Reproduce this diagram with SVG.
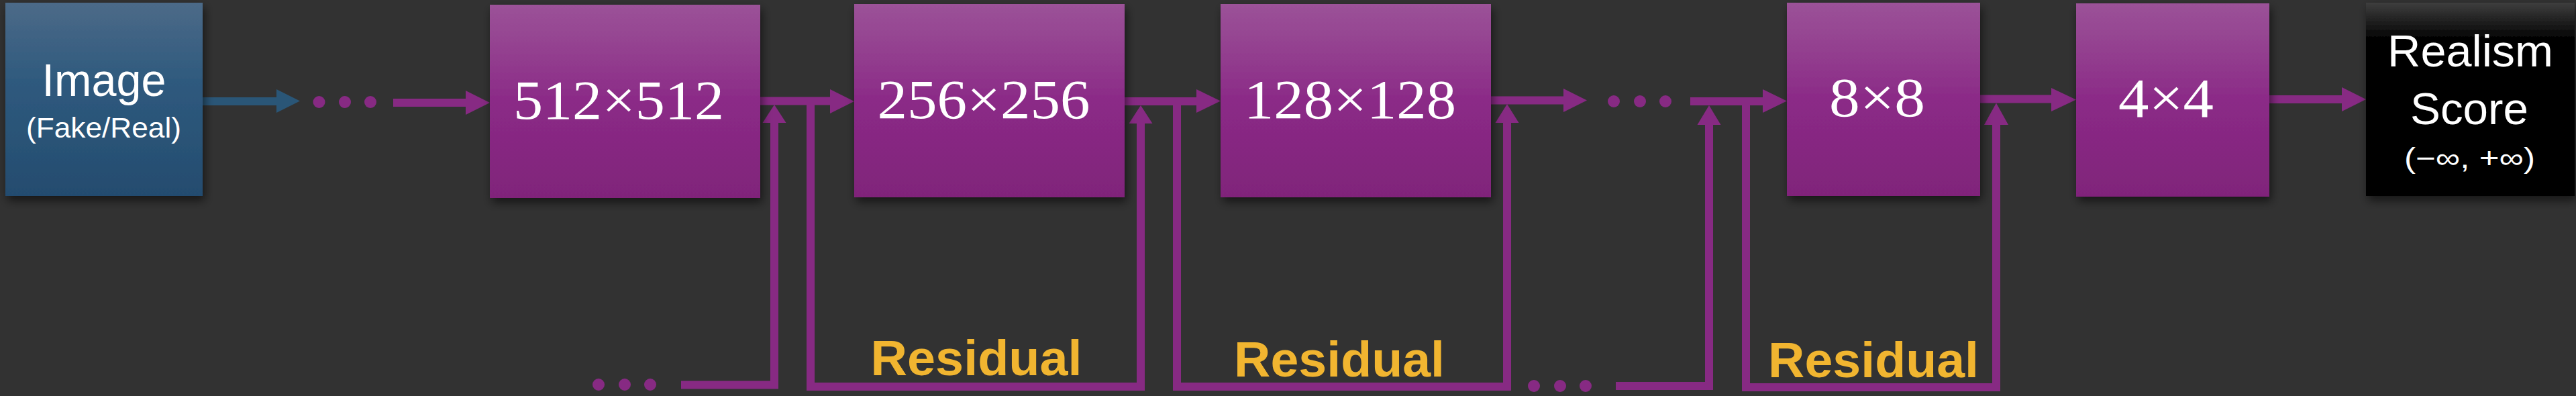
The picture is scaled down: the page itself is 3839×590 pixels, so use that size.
<svg xmlns="http://www.w3.org/2000/svg" width="3839" height="590" viewBox="0 0 3839 590">
<defs>
<linearGradient id="gPurple" x1="0" y1="0" x2="0" y2="1">
<stop offset="0" stop-color="#9B5298"/>
<stop offset="0.25" stop-color="#933F8F"/>
<stop offset="0.5" stop-color="#8B2A87"/>
<stop offset="1" stop-color="#80247A"/>
</linearGradient>
<linearGradient id="gBlue" x1="0" y1="0" x2="0" y2="1">
<stop offset="0" stop-color="#4C6A88"/>
<stop offset="0.4" stop-color="#2F5A7E"/>
<stop offset="1" stop-color="#244C6F"/>
</linearGradient>
<linearGradient id="gBlack" x1="0" y1="0" x2="0" y2="1">
<stop offset="0" stop-color="#3E3E3E"/>
<stop offset="0.18" stop-color="#050505"/>
<stop offset="1" stop-color="#000000"/>
</linearGradient>
<filter id="shadow" x="-10%" y="-10%" width="125%" height="125%">
<feDropShadow dx="3" dy="7" stdDeviation="7" flood-color="#000" flood-opacity="0.55"/>
</filter>
<style>
.box{filter:url(#shadow);}
.pbox{fill:url(#gPurple);}
.dim{font-family:"Liberation Serif","DejaVu Serif",serif;font-size:82px;fill:#FFFFFF;text-anchor:middle;}
.sans{font-family:"Liberation Sans","Noto Sans",sans-serif;fill:#FFFFFF;text-anchor:middle;}
.res{font-family:"Liberation Sans","Noto Sans",sans-serif;font-weight:bold;font-size:74px;fill:#F1B530;text-anchor:middle;}
.pl{fill:none;stroke:#872A83;stroke-width:12;stroke-linejoin:miter;stroke-linecap:butt;}
.ph{fill:#872A83;}
.dot{fill:#872A83;}
</style>
</defs>
<rect x="0" y="0" width="3839" height="590" fill="#323232"/>

<g id="connectors">
<!-- blue arrow -->
<rect x="302" y="145" width="112" height="12" fill="#2A5677"/>
<polygon points="412,133 447,150.5 412,168" fill="#2A5677"/>
<circle class="dot" cx="475.5" cy="152" r="9"/>
<circle class="dot" cx="514" cy="152" r="9"/>
<circle class="dot" cx="552" cy="152" r="9"/>
<!-- into 512 -->
<path class="pl" d="M586,153 H696"/>
<polygon class="ph" points="694,135 730,153 694,171"/>
<!-- 512 -> 256 -->
<path class="pl" d="M1133,150.5 H1239"/>
<polygon class="ph" points="1237,133 1273,151 1237,169"/>
<!-- 256 -> 128 -->
<path class="pl" d="M1676,151 H1785"/>
<polygon class="ph" points="1783,133 1819,150.5 1783,168"/>
<!-- 128 -> dots -->
<path class="pl" d="M2222,149.5 H2332"/>
<polygon class="ph" points="2330,132 2365,149.5 2330,167"/>
<circle class="dot" cx="2405" cy="151" r="9"/>
<circle class="dot" cx="2444" cy="151" r="9"/>
<circle class="dot" cx="2482" cy="151" r="9"/>
<!-- dots -> 8x8 -->
<path class="pl" d="M2519,151 H2629"/>
<polygon class="ph" points="2627,133 2663,150.5 2627,168"/>
<!-- 8x8 -> 4x4 -->
<path class="pl" d="M2951,147.5 H3059"/>
<polygon class="ph" points="3057,131 3094,148.5 3057,166"/>
<!-- 4x4 -> Realism -->
<path class="pl" d="M3382,148 H3492"/>
<polygon class="ph" points="3490,130 3526,148 3490,166"/>

<!-- residual: incoming from left dots into junction after 512 -->
<circle class="dot" cx="892" cy="573" r="9"/>
<circle class="dot" cx="931" cy="573" r="9"/>
<circle class="dot" cx="969" cy="573" r="9"/>
<path class="pl" d="M1015,573.5 H1154 V181"/>
<polygon class="ph" points="1136.5,183 1154,156 1171.5,183"/>
<!-- residual loop 1 -->
<path class="pl" d="M1208,150 V576 H1700 V181"/>
<polygon class="ph" points="1682.5,184 1700,157 1717.5,184"/>
<!-- residual loop 2 -->
<path class="pl" d="M1754,150 V576 H2246 V180"/>
<polygon class="ph" points="2228.5,183 2246,155 2263.5,183"/>
<!-- residual from dots into junction before 8x8 -->
<circle class="dot" cx="2286" cy="575" r="9"/>
<circle class="dot" cx="2325" cy="575" r="9"/>
<circle class="dot" cx="2363" cy="575" r="9"/>
<path class="pl" d="M2408,575 H2547 V183"/>
<polygon class="ph" points="2529.5,186 2547,157 2564.5,186"/>
<!-- residual loop 3 -->
<path class="pl" d="M2602,150 V577 H2975 V183"/>
<polygon class="ph" points="2957,186 2975,153.5 2993,186"/>
</g>

<g id="node-image">
<rect class="box" x="8" y="4" width="294" height="288" fill="url(#gBlue)"/>
<text class="sans" x="155" y="143" font-size="68" textLength="185" lengthAdjust="spacingAndGlyphs">Image</text>
<text class="sans" x="154.5" y="205" font-size="43" textLength="231" lengthAdjust="spacingAndGlyphs">(Fake/Real)</text>
</g>

<g id="node-512">
<rect class="box pbox" x="730" y="7" width="403" height="288"/>
<text class="dim" x="922" y="177" textLength="314" lengthAdjust="spacingAndGlyphs">512×512</text>
</g>

<g id="node-256">
<rect class="box pbox" x="1273" y="6" width="403" height="288"/>
<text class="dim" x="1466" y="176" textLength="317" lengthAdjust="spacingAndGlyphs">256×256</text>
</g>

<g id="node-128">
<rect class="box pbox" x="1819" y="6" width="403" height="288"/>
<text class="dim" x="2012" y="176" textLength="316" lengthAdjust="spacingAndGlyphs">128×128</text>
</g>

<g id="node-8">
<rect class="box pbox" x="2663" y="4" width="288" height="288"/>
<text class="dim" x="2797.5" y="173" textLength="143" lengthAdjust="spacingAndGlyphs">8×8</text>
</g>

<g id="node-4">
<rect class="box pbox" x="3094" y="5" width="288" height="288"/>
<text class="dim" x="3228" y="174" textLength="142" lengthAdjust="spacingAndGlyphs">4×4</text>
</g>

<g id="node-score">
<rect class="box" x="3526" y="4" width="311" height="288" fill="url(#gBlack)"/>
<text class="sans" x="3681.5" y="99" font-size="66" textLength="247" lengthAdjust="spacingAndGlyphs">Realism</text>
<text class="sans" x="3680" y="185" font-size="66" textLength="176" lengthAdjust="spacingAndGlyphs">Score</text>
<text class="sans" x="3680.5" y="250" font-size="42" textLength="195" lengthAdjust="spacingAndGlyphs">(−∞, +∞)</text>
</g>

<g id="labels">
<text class="res" x="1455" y="559" textLength="315" lengthAdjust="spacingAndGlyphs">Residual</text>
<text class="res" x="1996" y="561" textLength="314" lengthAdjust="spacingAndGlyphs">Residual</text>
<text class="res" x="2792" y="562" textLength="314" lengthAdjust="spacingAndGlyphs">Residual</text>
</g>
</svg>
